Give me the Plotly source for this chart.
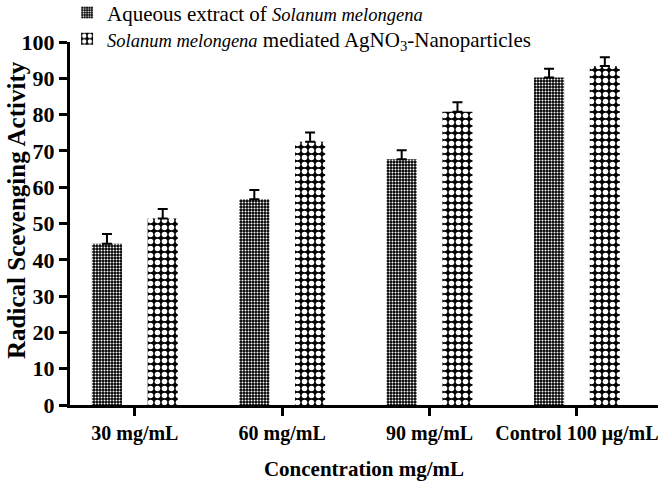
import plotly.graph_objects as go

categories = ["30 mg/mL", "60 mg/mL", "90 mg/mL", "Control 100 μg/mL"]
aqueous = [44.4, 56.7, 67.7, 90.2]
aqueous_err = [2.7, 2.5, 2.5, 2.4]
nano = [51.4, 72.5, 80.8, 93.4]
nano_err = [2.6, 2.6, 2.6, 2.4]
yticks = [0, 10, 20, 30, 40, 50, 60, 70, 80, 90, 100]

font_family = "Liberation Serif, Times New Roman, serif"
ital = '<i><span style="font-size:18.5px">{}</span></i>'

fig = go.Figure()
fig.add_trace(go.Bar(
    x=categories, y=aqueous,
    name="Aqueous extract of " + ital.format("Solanum melongena"),
    legend="legend",
    marker=dict(color="black", line=dict(width=0),
                pattern=dict(shape=".", size=3, solidity=0.35,
                             fgcolor="white", bgcolor="black", fillmode="replace")),
    error_y=dict(type="data", array=aqueous_err, arrayminus=[0]*4, symmetric=False,
                 color="black", thickness=2, width=5),
))
fig.add_trace(go.Bar(
    x=categories, y=nano,
    name=ital.format("Solanum melongena") + " mediated AgNO<sub>3</sub>-Nanoparticles",
    legend="legend2",
    marker=dict(color="black", line=dict(width=0),
                pattern=dict(shape=".", size=7, solidity=0.5,
                             fgcolor="white", bgcolor="black", fillmode="replace")),
    error_y=dict(type="data", array=nano_err, arrayminus=[0]*4, symmetric=False,
                 color="black", thickness=2, width=5),
))

fig.add_annotation(
    text="<b>Radical Scevenging Activity</b>", textangle=-90,
    xref="paper", yref="paper", x=-0.092, y=0.537,
    xanchor="center", yanchor="middle", showarrow=False,
    font=dict(size=25, family=font_family, color="black"),
)

legend_common = dict(x=-0.005, xanchor="left", yanchor="middle",
                     bgcolor="rgba(0,0,0,0)", font=dict(size=21, family=font_family),
                     itemwidth=30)

fig.update_layout(
    width=664, height=486,
    margin=dict(l=70, r=6, t=42, b=81, autoexpand=False),
    paper_bgcolor="white", plot_bgcolor="white",
    barmode="group", bargap=0.243, bargroupgap=0.46,
    font=dict(family=font_family, color="black", size=20),
    showlegend=True,
    legend=dict(y=1.080, **legend_common),
    legend2=dict(y=1.008, **legend_common),
    xaxis=dict(
        type="category", range=[-0.44, 3.55],
        showline=True, linecolor="black", linewidth=3,
        ticks="outside", ticklen=8, tickwidth=3, tickcolor="black",
        tickfont=dict(size=20, family=font_family, weight="bold"),
        title=dict(text="<b>Concentration mg/mL</b>", font=dict(size=21), standoff=18),
        showgrid=False, zeroline=False,
    ),
    yaxis=dict(
        range=[0, 100], tickvals=yticks,
        showline=True, linecolor="black", linewidth=3,
        ticks="outside", ticklen=8, tickwidth=3, tickcolor="black",
        tickfont=dict(size=22, family=font_family, weight="bold"),
        showgrid=False, zeroline=False,
    ),
)

fig.write_html("out.html")
